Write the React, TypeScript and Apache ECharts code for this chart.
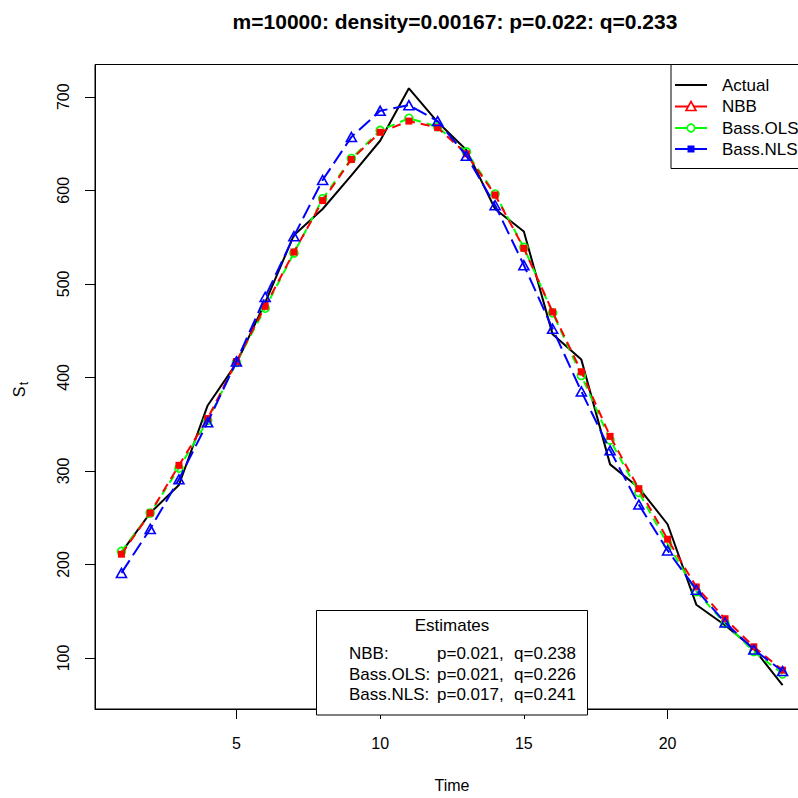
import React, { useEffect, useRef } from "react";
import * as echarts from "echarts";

const time = [1, 2, 3, 4, 5, 6, 7, 8, 9, 10, 11, 12, 13, 14, 15, 16, 17, 18, 19, 20, 21, 22, 23, 24];
const actual = [213, 255, 285, 370, 415, 480, 552, 580, 616, 653, 709, 673, 643, 580, 556, 446, 419, 307, 282, 243, 157, 135, 110, 71];
const nbb = [211, 255, 306, 356, 417, 476, 534, 589, 633, 662, 674, 667, 639, 595, 538, 470, 406, 337, 281, 227, 176, 142, 112, 87];
const ols = [214, 255, 303, 354, 416, 474, 533, 591, 634, 664, 677, 668, 641, 596, 539, 469, 402, 333, 277, 222, 171, 137, 107, 83];
const nls = [191, 238, 291, 352, 417, 486, 551, 611, 657, 685, 691, 674, 637, 584, 520, 452, 385, 322, 264, 215, 173, 138, 109, 86];

const xTicks = [5, 10, 15, 20];
const yTicks = [100, 200, 300, 400, 500, 600, 700];
const titleText = "m=10000: density=0.00167: p=0.022: q=0.233";
const legendNames = ["Actual", "NBB", "Bass.OLS", "Bass.NLS"];
const estimatesTitle = "Estimates";
const estimateLabels = ["NBB:", "Bass.OLS:", "Bass.NLS:"];
const estimateP = ["p=0.021,", "p=0.021,", "p=0.017,"];
const estimateQ = ["q=0.238", "q=0.226", "q=0.241"];

const FONT = "Liberation Sans, Arial, sans-serif";
const RED = "#ff0000";
const GREEN = "#00ff00";
const BLUE = "#0000ff";

export default function App() {
  const ref = useRef<HTMLDivElement>(null);
  useEffect(() => {
    if (!ref.current) return;
    const chart = echarts.init(ref.current, null, { renderer: "svg" });
    const pairs = (ys: number[]) => time.map((t, i) => [t, ys[i]]);

    const legendY = [85, 106.5, 128, 149];
    const legendColors = ["#000", RED, GREEN, BLUE];
    const legendGraphics: any[] = [
      {
        type: "rect",
        shape: { x: 671, y: 64.5, width: 200, height: 104 },
        style: { fill: "#fff", stroke: "#000", lineWidth: 1 },
        z: 100,
      },
    ];
    legendNames.forEach((n, i) => {
      legendGraphics.push({
        type: "line",
        shape: { x1: 675, y1: legendY[i], x2: 707, y2: legendY[i] },
        style: { stroke: legendColors[i], lineWidth: 2 },
        z: 101,
      });
      legendGraphics.push({
        type: "text",
        x: 722,
        y: legendY[i],
        style: { text: n, font: `17px ${FONT}`, fill: "#000", textVerticalAlign: "middle", textAlign: "left" },
        z: 101,
      });
    });
    legendGraphics.push({
      type: "polygon",
      shape: { points: [[691, legendY[1] - 5], [686, legendY[1] + 4], [696, legendY[1] + 4]] },
      style: { fill: "#fff", stroke: RED, lineWidth: 1.6 },
      z: 102,
    });
    legendGraphics.push({
      type: "circle",
      shape: { cx: 691, cy: legendY[2], r: 3.8 },
      style: { fill: "#fff", stroke: GREEN, lineWidth: 1.6 },
      z: 102,
    });
    legendGraphics.push({
      type: "rect",
      shape: { x: 687.5, y: legendY[3] - 3.5, width: 7, height: 7 },
      style: { fill: BLUE },
      z: 102,
    });

    const estGraphics: any[] = [
      {
        type: "rect",
        shape: { x: 316.5, y: 610.5, width: 271, height: 104.5 },
        style: { fill: "#fff", stroke: "#000", lineWidth: 1 },
        z: 100,
      },
      {
        type: "text",
        x: 452,
        y: 625,
        style: { text: estimatesTitle, font: `17px ${FONT}`, fill: "#000", textAlign: "center", textVerticalAlign: "middle" },
        z: 101,
      },
    ];
    const rowY = [653, 674, 694];
    estimateLabels.forEach((l, i) => {
      estGraphics.push({
        type: "text",
        x: 349,
        y: rowY[i],
        style: { text: l, font: `17px ${FONT}`, fill: "#000", textVerticalAlign: "middle" },
        z: 101,
      });
      estGraphics.push({
        type: "text",
        x: 437,
        y: rowY[i],
        style: { text: estimateP[i], font: `17px ${FONT}`, fill: "#000", textVerticalAlign: "middle" },
        z: 101,
      });
      estGraphics.push({
        type: "text",
        x: 514,
        y: rowY[i],
        style: { text: estimateQ[i], font: `17px ${FONT}`, fill: "#000", textVerticalAlign: "middle" },
        z: 101,
      });
    });

    const yLabelGraphics: any[] = [
      {
        type: "text",
        x: 19,
        y: 392,
        rotation: Math.PI / 2,
        style: { text: "S", font: `16px ${FONT}`, fill: "#000", textAlign: "center", textVerticalAlign: "middle" },
      },
      {
        type: "text",
        x: 23.5,
        y: 383.5,
        rotation: Math.PI / 2,
        style: { text: "t", font: `12px ${FONT}`, fill: "#000", textAlign: "center", textVerticalAlign: "middle" },
      },
    ];

    chart.setOption({
      animation: false,
      backgroundColor: "#fff",
      title: {
        text: titleText,
        left: 450,
        top: 6,
        textAlign: "center",
        textStyle: { fontFamily: FONT, fontWeight: "bold", fontSize: 21, color: "#000" },
      },
      grid: {
        left: 95,
        top: 64.5,
        width: 714,
        height: 650,
        show: true,
        borderColor: "#000",
        borderWidth: 1,
        backgroundColor: "transparent",
      },
      xAxis: {
        type: "value",
        min: 0.08,
        max: 24.92,
        splitLine: { show: false },
        axisLine: { show: true, lineStyle: { color: "#000", width: 1 } },
        axisTick: { show: true, customValues: xTicks, length: 10, inside: false, lineStyle: { color: "#000" } },
        axisLabel: { customValues: xTicks, margin: 26, fontSize: 16, color: "#000", fontFamily: FONT },
        name: "Time",
        nameLocation: "middle",
        nameGap: 68,
        nameTextStyle: { fontSize: 16, color: "#000", fontFamily: FONT },
      },
      yAxis: {
        type: "value",
        min: 45.5,
        max: 734.5,
        splitLine: { show: false },
        axisLine: { show: true, lineStyle: { color: "#000", width: 1 } },
        axisTick: { show: true, customValues: yTicks, length: 10, inside: false, lineStyle: { color: "#000" } },
        axisLabel: { customValues: yTicks, margin: 24, rotate: 90, fontSize: 16, color: "#000", fontFamily: FONT },
      },
      series: [
        {
          name: "Actual",
          type: "line",
          data: pairs(actual),
          symbol: "none",
          lineStyle: { color: "#000", width: 2 },
          silent: true,
          z: 2,
        },
        {
          name: "Bass.OLS",
          type: "line",
          data: pairs(ols),
          symbol: "circle",
          symbolSize: 8,
          itemStyle: { color: "rgba(0,0,0,0)", borderColor: GREEN, borderWidth: 1.6 },
          lineStyle: { color: GREEN, width: 2, type: [8, 6] },
          silent: true,
          z: 3,
        },
        {
          name: "NBB",
          type: "line",
          data: pairs(nbb),
          symbol: "rect",
          symbolSize: 7,
          itemStyle: { color: RED },
          lineStyle: { color: RED, width: 2, type: [9, 6] },
          silent: true,
          z: 4,
        },
        {
          name: "Bass.NLS",
          type: "line",
          data: pairs(nls),
          symbol: "triangle",
          symbolSize: [10, 9],
          itemStyle: { color: "rgba(0,0,0,0)", borderColor: BLUE, borderWidth: 1.6 },
          lineStyle: { color: BLUE, width: 2, type: [15, 6] },
          silent: true,
          z: 5,
        },
      ],
      graphic: [...legendGraphics, ...estGraphics, ...yLabelGraphics],
    });
    return () => chart.dispose();
  }, []);
  return (
    <div style={{ position: "absolute", left: 0, top: 0, width: 798, height: 798, overflow: "hidden" }}>
      <div ref={ref} style={{ width: 830, height: 798 }} />
    </div>
  );
}
